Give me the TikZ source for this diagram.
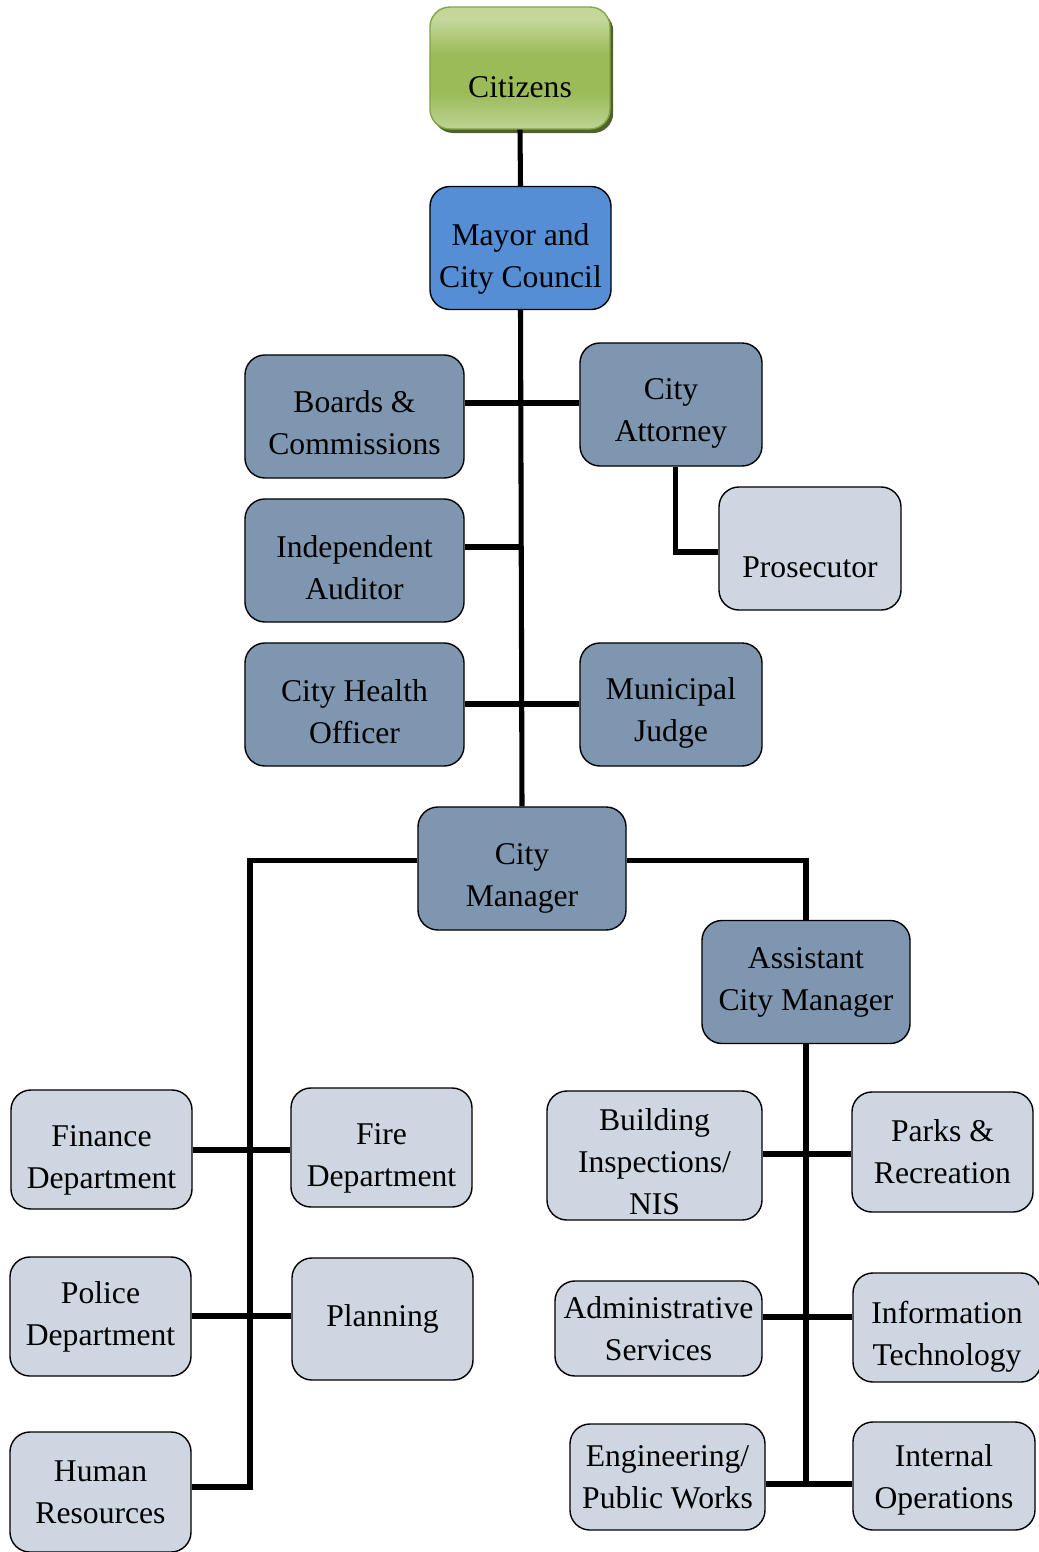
\documentclass[tikz,border=0pt]{standalone}
\usepackage{fontspec}
\setmainfont{Liberation Serif}
\usetikzlibrary{shadows}

\definecolor{slate}{RGB}{127,150,177}
\definecolor{pale}{RGB}{206,215,225}
\definecolor{council}{RGB}{85,142,213}
\definecolor{leaf}{RGB}{155,187,89}
\definecolor{leaftop}{RGB}{196,215,155}
\definecolor{leafbot}{RGB}{190,211,148}
\definecolor{leafline}{RGB}{130,165,70}
\definecolor{leafshade}{RGB}{79,98,40}

\pgfdeclareverticalshading{citgrad}{100bp}{color(0bp)=(leafbot); color(25bp)=(leafbot); color(40bp)=(leaf); color(56bp)=(leaf); color(70bp)=(leaftop); color(100bp)=(leaftop)}

% taller first line, so the text sits lower in its box
\newcommand{\lift}[1]{\rule{0pt}{#1}}

\begin{document}
\begin{tikzpicture}[
    x=0.025cm, y=-0.025cm,
    box/.style={rectangle, rounded corners=0.5cm, draw=black, line width=1pt, inner sep=0pt, align=center, font=\fontsize{22.5}{29.9}\selectfont},
    darkbox/.style={box, fill=slate},
    lightbox/.style={box, fill=pale},
    bluebox/.style={box, fill=council},
    greenbox/.style={box, draw=leafline, shading=citgrad,
        general shadow={fill=leafshade, shadow xshift=0.08cm, shadow yshift=-0.1cm}},
    conn/.style={line width=3.6pt}
]
    \useasboundingbox (0,0) rectangle (1039,1552);

    % top of the chart
    \node[greenbox, minimum width=4.5cm, minimum height=3.05cm] (cit) at (520,68) {\lift{12.8pt}\\Citizens};
    \node[bluebox, minimum width=4.525cm, minimum height=3.075cm] (mayor) at (520.5,248) {\lift{31pt}Mayor and\\City Council};

    % offices under the council
    \node[darkbox, minimum width=5.475cm, minimum height=3.075cm] (boards) at (354.5,416.5) {\lift{23.9pt}Boards \&\\Commissions};
    \node[darkbox, minimum width=4.55cm, minimum height=3.075cm] (atty) at (671,404.5) {\lift{28.2pt}City\\Attorney};
    \node[lightbox, minimum width=4.55cm, minimum height=3.075cm] (pros) at (810,548.5) {\lift{11.4pt}\\Prosecutor};
    \node[darkbox, minimum width=5.475cm, minimum height=3.075cm] (auditor) at (354.5,560.5) {\lift{25.4pt}Independent\\Auditor};
    \node[darkbox, minimum width=5.475cm, minimum height=3.075cm] (health) at (354.5,704.5) {\lift{25.4pt}City Health\\Officer};
    \node[darkbox, minimum width=4.55cm, minimum height=3.075cm] (judge) at (671,704.5) {\lift{28.2pt}Municipal\\Judge};

    % managers
    \node[darkbox, minimum width=5.2cm, minimum height=3.075cm] (cmgr) at (522,868.5) {\lift{29.6pt}City\\Manager};
    \node[darkbox, minimum width=5.2cm, minimum height=3.075cm] (acm) at (806,982) {Assistant\\City Manager};

    % departments under the city manager
    \node[lightbox, minimum width=4.525cm, minimum height=2.975cm] (fin) at (101.5,1149.5) {\lift{31pt}Finance\\Department};
    \node[lightbox, minimum width=4.525cm, minimum height=2.975cm] (fire) at (381.5,1147.5) {\lift{31pt}Fire\\Department};
    \node[lightbox, minimum width=4.525cm, minimum height=2.975cm] (pol) at (100.5,1316.5) {Police\\Department};
    \node[lightbox, minimum width=4.525cm, minimum height=3.05cm] (plan) at (382.5,1319) {Planning};
    \node[lightbox, minimum width=4.525cm, minimum height=3cm] (hr) at (100.5,1492) {Human\\Resources};

    % departments under the assistant city manager
    \node[lightbox, minimum width=5.375cm, minimum height=3.225cm] (bld) at (654.5,1155.5) {\lift{23.9pt}Building\\Inspections/\\NIS};
    \node[lightbox, minimum width=4.525cm, minimum height=3cm] (parks) at (942.5,1152) {Parks \&\\Recreation};
    \node[lightbox, minimum width=5.175cm, minimum height=2.375cm] (adm) at (658.5,1328.5) {Administrative\\Services};
    \node[lightbox, minimum width=4.7cm, minimum height=2.725cm] (it) at (947,1327.5) {\lift{29.6pt}Information\\Technology};
    \node[lightbox, minimum width=4.875cm, minimum height=2.65cm] (eng) at (667.5,1477) {Engineering/\\Public Works};
    \node[lightbox, minimum width=4.55cm, minimum height=2.7cm] (iops) at (944,1476) {\lift{21.1pt}Internal\\Operations};

    % points on the lines
    \coordinate (mt1) at (521,403);
    \coordinate (mt2) at (521,547);
    \coordinate (mt3) at (521,704);
    \coordinate (lb1) at (250,1150);
    \coordinate (lb2) at (250,1316);
    \coordinate (lbus) at (250,1487);
    \coordinate (rb1) at (806,1154);
    \coordinate (rb2) at (806,1317);
    \coordinate (rbus) at (806,1484);

    % connectors
    \draw[conn] (cit.south) -- (mayor.north);
    \draw[conn] (mayor.south) -- (cmgr.north);
    \draw[conn] (mt1 -| boards.east) -- (mt1 -| atty.west);
    \draw[conn] ([xshift=2.9pt]atty.south) |- (pros.west |- 0,552);
    \draw[conn] (mt2 -| auditor.east) -- (mt2);
    \draw[conn] (mt3 -| health.east) -- (mt3 -| judge.west);

    \draw[conn] ([yshift=5.7pt]cmgr.west) -| (lbus) -- (lbus -| hr.east);
    \draw[conn] (lb1 -| fin.east) -- (lb1 -| fire.west);
    \draw[conn] (lb2 -| pol.east) -- (lb2 -| plan.west);

    \draw[conn] ([yshift=5.7pt]cmgr.east) -| (acm.north);
    \draw[conn] (acm.south) -- (rbus);
    \draw[conn] (rb1 -| bld.east) -- (rb1 -| parks.west);
    \draw[conn] (rb2 -| adm.east) -- (rb2 -| it.west);
    \draw[conn] (rbus -| eng.east) -- (rbus -| iops.west);
\end{tikzpicture}
\end{document}
